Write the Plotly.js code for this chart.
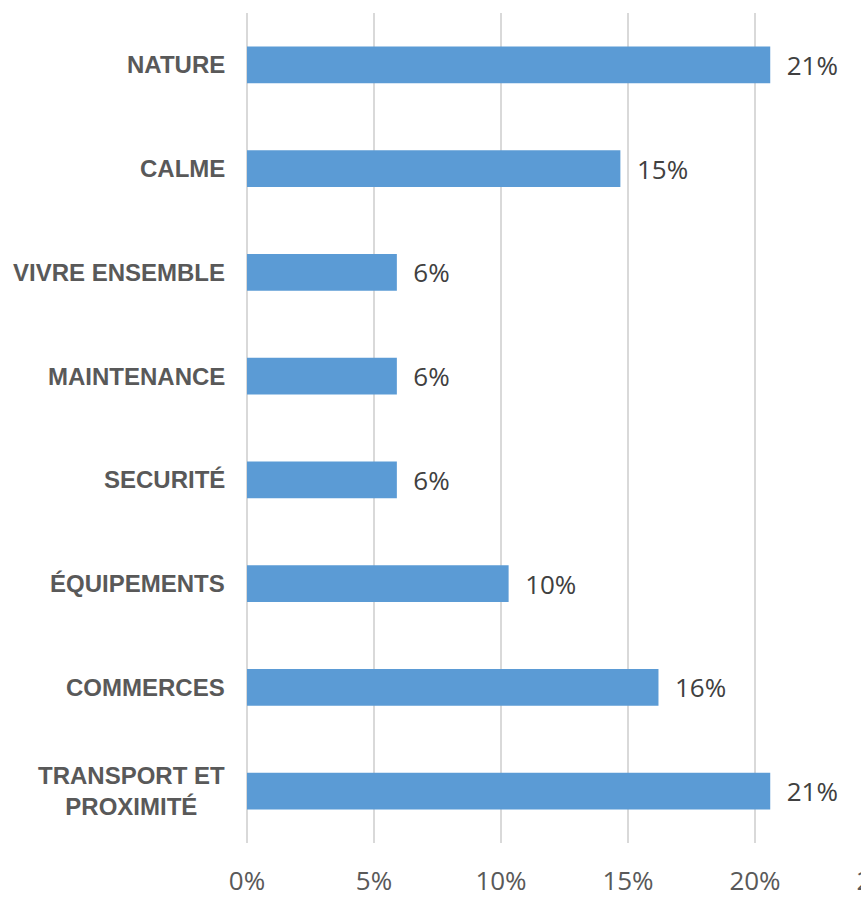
<!DOCTYPE html>
<html>
<head>
<meta charset="utf-8">
<script src="https://cdn.plot.ly/plotly-3.0.1.min.js"></script>
<style>
html, body { margin: 0; padding: 0; overflow: hidden; background: #fff; }
#chart { width: 912px; height: 899px; }
</style>
</head>
<body>
<div id="chart"></div>
<script>
// Categories listed bottom to top
const categories = [
  "TRANSPORT ET<br>PROXIMITÉ",
  "COMMERCES",
  "ÉQUIPEMENTS",
  "SECURITÉ",
  "MAINTENANCE",
  "VIVRE ENSEMBLE",
  "CALME",
  "NATURE"
];
const values = [0.206, 0.162, 0.103, 0.059, 0.059, 0.059, 0.147, 0.206];
const tickValues = [0, 0.05, 0.10, 0.15, 0.20, 0.25];

const trace = {
  type: "bar",
  orientation: "h",
  y: categories,
  x: values,
  width: 0.355,
  marker: { color: "#5B9BD5" },
  texttemplate: "\u00A0\u00A0%{x:.0%}",
  textposition: "outside",
  cliponaxis: false,
  textfont: { family: "Open Sans, sans-serif", size: 26, color: "#404040" },
  hoverinfo: "skip"
};

const annotations = categories.map(c => ({
  x: 0, xref: "paper", xanchor: "right", xshift: -20,
  y: c, yref: "y", yanchor: "middle",
  text: c, showarrow: false, align: "center",
  font: { family: "Liberation Sans, Arial, sans-serif", size: 24, color: "#595959", weight: "bold" }
}));

const layout = {
  width: 912,
  height: 899,
  margin: { l: 247, r: 30, t: 13, b: 56 },
  paper_bgcolor: "#ffffff",
  plot_bgcolor: "#ffffff",
  showlegend: false,
  xaxis: {
    range: [0, 0.25],
    tickvals: tickValues,
    tickformat: ".0%",
    showgrid: true,
    gridcolor: "#d9d9d9",
    gridwidth: 2,
    zeroline: true,
    zerolinecolor: "#d9d9d9",
    zerolinewidth: 2,
    showline: false,
    ticks: "",
    ticklabelstandoff: 20,
    tickfont: { family: "Open Sans, sans-serif", size: 26, color: "#595959" },
    fixedrange: true
  },
  yaxis: {
    type: "category",
    categoryorder: "array",
    categoryarray: categories,
    range: [-0.5, 7.5],
    showticklabels: false,
    showgrid: false,
    zeroline: false,
    showline: false,
    ticks: "",
    fixedrange: true
  },
  annotations: annotations
};

Plotly.newPlot("chart", [trace], layout, { displayModeBar: false, staticPlot: true });
</script>
</body>
</html>
